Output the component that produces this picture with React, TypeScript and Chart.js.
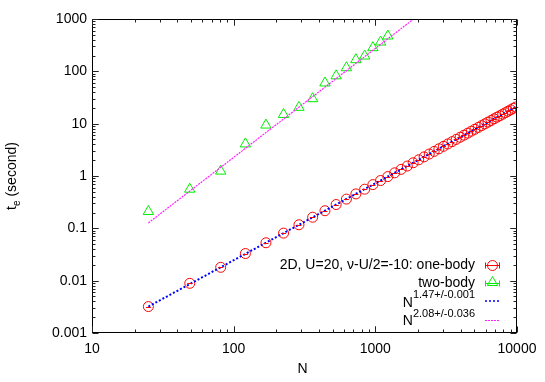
import React, { useEffect, useRef } from "react";
import { Chart, registerables } from "chart.js";

Chart.register(...registerables);

// ---------- data ----------
const oneBodyN = [
  25, 49, 81, 121, 169, 225, 289, 361, 441, 529, 625, 729, 841, 961, 1089, 1225,
  1369, 1521, 1681, 1849, 2025, 2209, 2401, 2601, 2809, 3025, 3249, 3481, 3721,
  3969, 4225, 4489, 4761, 5041, 5329, 5625, 5929, 6241, 6561, 6889, 7225, 7569,
  7921, 8281, 8649, 9025, 9409, 9801,
];
const oneBodyT = [
  0.0032, 0.0089, 0.018, 0.033, 0.053, 0.081, 0.117, 0.163, 0.217, 0.285, 0.362,
  0.455, 0.56, 0.685, 0.82, 0.975, 1.15, 1.34, 1.55, 1.79, 2.04, 2.32, 2.63, 2.95,
  3.31, 3.69, 4.1, 4.53, 5.0, 5.5, 6.03, 6.59, 7.18, 7.81, 8.48, 9.18, 9.92, 10.7,
  11.5, 12.4, 13.3, 14.2, 15.2, 16.2, 17.3, 18.4, 19.6, 20.8,
];
const twoBodyN = [25, 49, 81, 121, 169, 225, 289, 361, 441, 529, 625, 729, 841, 961, 1089, 1225];
const twoBodyT = [0.21, 0.56, 1.24, 4.1, 9.4, 15, 20.5, 30, 60, 82, 117, 167, 196, 283, 363, 473];
const fit1N = [25, 9801];
const fit1T = [0.0032, 20.8];
const fit2N = [25, 2000];
const fit2T = [0.127, 1157];

const xTicks = [10, 100, 1000, 10000];
const yTicks = [0.001, 0.01, 0.1, 1, 10, 100, 1000];

const legendLabels = ["2D, U=20, \u03bd-U/2=-10: one-body", "two-body"];
const fitBase = "N";
const fitExponents = ["1.47+/-0.001", "2.08+/-0.036"];
const xTitle = "N";
const yTitleMain = "t";
const yTitleSub = "e";
const yTitleRest = " (second)";

const FONT = "'Liberation Sans', Arial, Helvetica, sans-serif";
const RED = "#ff0000";
const GREEN = "#00ee00";
const BLUE = "#0000ff";
const MAGENTA = "#ff22ff";

const toPts = (xs: number[], ys: number[]) => xs.map((x, i) => ({ x, y: ys[i] }));

const decorPlugin = {
  id: "decor",
  afterDatasetsDraw(chart: any) {
    const ctx = chart.ctx;
    const xs = chart.scales.x;
    const ys = chart.scales.y;
    // small error-bar caps inside red circles
    ctx.save();
    ctx.strokeStyle = RED;
    ctx.lineWidth = 1;
    oneBodyN.forEach((n, i) => {
      const px = xs.getPixelForValue(n);
      const py = ys.getPixelForValue(oneBodyT[i]);
      ctx.beginPath();
      ctx.moveTo(px - 2.5, Math.round(py) + 0.5);
      ctx.lineTo(px + 2.5, Math.round(py) + 0.5);
      ctx.stroke();
    });
    ctx.restore();
  },
  afterDraw(chart: any) {
    const ctx = chart.ctx;
    const { left, right, top, bottom } = chart.chartArea;
    const xs = chart.scales.x;
    const ys = chart.scales.y;
    ctx.save();
    // frame
    ctx.strokeStyle = "#000";
    ctx.lineWidth = 1;
    const L = Math.round(left) + 0.5, R = Math.round(right) - 0.5;
    const T = Math.round(top) + 0.5, B = Math.round(bottom) - 0.5;
    ctx.strokeRect(L, T, R - L, B - T);
    // ticks
    ctx.strokeStyle = "#222";
    const xDecades = [10, 100, 1000];
    xDecades.forEach((d) => {
      for (let k = 1; k <= 10; k++) {
        const v = d * k;
        if (v > 10000) break;
        const len = k === 1 || k === 10 ? 6 : 3;
        const px = Math.round(xs.getPixelForValue(v)) + 0.5;
        ctx.beginPath();
        ctx.moveTo(px, B);
        ctx.lineTo(px, B - len);
        ctx.moveTo(px, T);
        ctx.lineTo(px, T + len);
        ctx.stroke();
      }
    });
    const yDecades = [0.001, 0.01, 0.1, 1, 10, 100];
    yDecades.forEach((d) => {
      for (let k = 1; k <= 10; k++) {
        const v = d * k;
        const len = k === 1 || k === 10 ? 6 : 3;
        const py = Math.round(ys.getPixelForValue(v)) + 0.5;
        ctx.beginPath();
        ctx.moveTo(L, py);
        ctx.lineTo(L + len, py);
        ctx.moveTo(R, py);
        ctx.lineTo(R - len, py);
        ctx.stroke();
      }
    });

    // axis titles
    ctx.fillStyle = "#000";
    ctx.textBaseline = "middle";
    ctx.textAlign = "center";
    ctx.font = `14px ${FONT}`;
    ctx.fillText(xTitle, (left + right) / 2 - 2, 369);

    ctx.save();
    ctx.translate(12, (top + bottom) / 2);
    ctx.rotate(-Math.PI / 2);
    ctx.textAlign = "left";
    ctx.font = `14px ${FONT}`;
    const wT = ctx.measureText(yTitleMain).width;
    const wR = ctx.measureText(yTitleRest).width;
    ctx.font = `10px ${FONT}`;
    const wE = ctx.measureText(yTitleSub).width;
    let x0 = -(wT + wE + wR) / 2;
    ctx.font = `14px ${FONT}`;
    ctx.fillText(yTitleMain, x0, 0);
    x0 += wT;
    ctx.font = `10px ${FONT}`;
    ctx.fillText(yTitleSub, x0, 5);
    x0 += wE;
    ctx.font = `14px ${FONT}`;
    ctx.fillText(yTitleRest, x0, 0);
    ctx.restore();

    // legend
    const textRight = 475;
    const sx0 = 485, sx1 = 500, scx = 492.5;
    const rows = [265, 283.5, 302, 320.5];
    ctx.textAlign = "right";
    ctx.textBaseline = "middle";
    ctx.font = `14px ${FONT}`;
    ctx.fillText(legendLabels[0], textRight, rows[0]);
    ctx.fillText(legendLabels[1], textRight, rows[1]);
    fitExponents.forEach((e, i) => {
      const y = rows[2 + i];
      ctx.font = `11px ${FONT}`;
      const we = ctx.measureText(e).width;
      ctx.fillText(e, textRight, y - 7);
      ctx.font = `14px ${FONT}`;
      ctx.fillText(fitBase, textRight - we, y + 1);
    });
    // samples with error-bar style
    const drawErr = (y: number, color: string) => {
      ctx.strokeStyle = color;
      ctx.lineWidth = 1;
      const yy = Math.round(y) + 0.5;
      ctx.beginPath();
      ctx.moveTo(sx0, yy);
      ctx.lineTo(sx1, yy);
      ctx.moveTo(sx0 + 0.5, yy - 3);
      ctx.lineTo(sx0 + 0.5, yy + 3);
      ctx.moveTo(sx1 - 0.5, yy - 3);
      ctx.lineTo(sx1 - 0.5, yy + 3);
      ctx.stroke();
    };
    drawErr(rows[0], RED);
    ctx.beginPath();
    ctx.arc(scx, Math.round(rows[0]) + 0.5, 5, 0, Math.PI * 2);
    ctx.stroke();
    drawErr(rows[1] - 1, GREEN);
    {
      const cy = rows[1] - 1;
      const r = 6;
      ctx.beginPath();
      ctx.moveTo(scx, cy - r);
      ctx.lineTo(scx + r * 0.866, cy + r * 0.5);
      ctx.lineTo(scx - r * 0.866, cy + r * 0.5);
      ctx.closePath();
      ctx.stroke();
    }
    ctx.setLineDash([2, 2]);
    ctx.lineWidth = 1.5;
    ctx.strokeStyle = BLUE;
    ctx.beginPath();
    ctx.moveTo(sx0, rows[2] - 1);
    ctx.lineTo(sx1, rows[2] - 1);
    ctx.stroke();
    ctx.setLineDash([2, 1]);
    ctx.lineWidth = 1;
    ctx.strokeStyle = MAGENTA;
    ctx.beginPath();
    ctx.moveTo(sx0, Math.round(rows[3] - 1) + 0.5);
    ctx.lineTo(sx1, Math.round(rows[3] - 1) + 0.5);
    ctx.stroke();
    ctx.restore();
  },
};

export default function App() {
  const ref = useRef<HTMLCanvasElement | null>(null);
  useEffect(() => {
    if (!ref.current) return;
    const chart = new Chart(ref.current, {
      type: "scatter",
      data: {
        datasets: [
          {
            label: "fit1",
            type: "line",
            data: toPts(fit1N, fit1T),
            borderColor: BLUE,
            borderWidth: 2,
            borderDash: [2, 2],
            pointRadius: 0,
            fill: false,
            order: 0,
          },
          {
            label: "fit2",
            type: "line",
            data: toPts(fit2N, fit2T),
            borderColor: MAGENTA,
            borderWidth: 1.2,
            borderDash: [2, 1],
            pointRadius: 0,
            fill: false,
            order: 1,
          },
          {
            label: "two-body",
            data: toPts(twoBodyN, twoBodyT),
            pointStyle: "triangle",
            pointRadius: 6,
            pointBorderWidth: 1,
            borderColor: GREEN,
            backgroundColor: "rgba(0,0,0,0)",
            showLine: false,
            order: 2,
          },
          {
            label: "one-body",
            data: toPts(oneBodyN, oneBodyT),
            pointStyle: "circle",
            pointRadius: 5,
            pointBorderWidth: 1,
            borderColor: RED,
            backgroundColor: "rgba(0,0,0,0)",
            showLine: false,
            order: 3,
          },
        ],
      },
      options: {
        responsive: false,
        animation: false,
        devicePixelRatio: 1,
        layout: { padding: { left: 0, top: 19, right: 28, bottom: 0 } },
        plugins: { legend: { display: false }, tooltip: { enabled: false } },
        scales: {
          x: {
            type: "logarithmic",
            min: 10,
            max: 10000,
            afterBuildTicks: (s: any) => {
              s.ticks = xTicks.map((v) => ({ value: v }));
            },
            afterFit: (s: any) => {
              s.height = 49;
            },
            ticks: {
              callback: (v: any) => String(v),
              font: { family: FONT, size: 14 },
              color: "#000",
              padding: 8,
              maxRotation: 0,
              autoSkip: false,
            },
            grid: { display: false, drawTicks: false },
            border: { display: false },
          },
          y: {
            type: "logarithmic",
            min: 0.001,
            max: 1000,
            afterBuildTicks: (s: any) => {
              s.ticks = yTicks.map((v) => ({ value: v }));
            },
            afterFit: (s: any) => {
              s.width = 92;
            },
            ticks: {
              callback: (v: any) => String(v),
              font: { family: FONT, size: 14 },
              color: "#000",
              padding: 5,
              autoSkip: false,
            },
            grid: { display: false, drawTicks: false },
            border: { display: false },
          },
        },
      },
      plugins: [decorPlugin],
    } as any);
    return () => chart.destroy();
  }, []);
  return (
    <div style={{ position: "absolute", left: 0, top: 0, width: 545, height: 382, background: "#fff" }}>
      <canvas ref={ref} width={545} height={382} style={{ display: "block" }} />
    </div>
  );
}
